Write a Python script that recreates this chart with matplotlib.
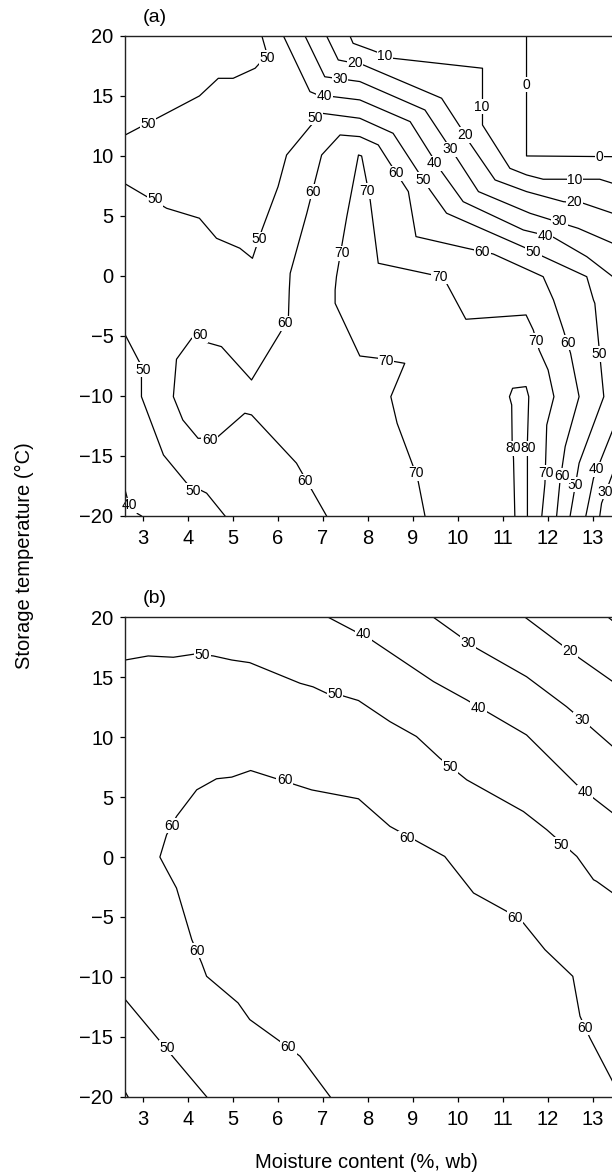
import matplotlib
matplotlib.use('Agg')
import matplotlib.pyplot as plt

plt.rcParams['font.family'] = ['Liberation Sans', 'DejaVu Sans']

# contour lines: (moisture %, temperature C) vertices
# ---- panel (a) ----
a_0 = [(11.53, 20.0), (11.53, 10.0), (13.45, 9.94)]
a_10 = [(7.60, 20.0), (7.67, 19.39), (8.08, 18.83), (8.56, 18.14), (10.55, 17.31),
        (10.55, 12.58), (11.16, 8.97), (11.53, 8.42), (11.90, 8.06), (13.16, 8.06),
        (13.45, 7.72)]
a_20 = [(7.08, 20.0), (7.34, 18.0), (7.90, 17.58), (9.64, 14.81), (10.05, 12.44),
        (10.27, 11.06), (10.83, 8.0), (11.53, 7.03), (12.35, 6.19), (12.79, 6.06),
        (13.45, 5.22)]
a_30 = [(6.60, 20.0), (7.04, 16.6), (7.82, 16.2), (9.27, 13.83), (9.98, 9.81),
        (10.46, 7.03), (11.61, 5.22), (12.68, 3.97), (13.45, 2.72)]
a_30_low = [(13.45, -16.44), (13.20, -18.94), (13.16, -20.0)]
a_40 = [(6.12, 20.0), (6.71, 15.36), (6.89, 15.08), (7.23, 14.94), (7.82, 14.67),
        (8.94, 12.86), (9.64, 8.69), (10.12, 6.19), (11.46, 3.83), (12.13, 3.22),
        (12.87, 1.61), (13.45, -0.06)]
a_40_low = [(13.45, -12.83), (13.02, -16.86), (12.85, -20.0)]
a_40_corner = [(2.60, -17.9), (2.65, -18.6), (2.87, -19.8), (2.96, -20.0)]
a_50_top = [(2.60, 11.75), (4.25, 15.0), (4.67, 16.47), (5.0, 16.47), (5.49, 17.31),
            (5.76, 18.42), (5.64, 20.0)]
a_50 = [(2.60, 7.67), (3.52, 5.64), (4.25, 4.81), (4.63, 3.14), (5.15, 2.31),
        (5.43, 1.47), (5.64, 3.83), (6.0, 7.44), (6.19, 10.08), (6.71, 12.44),
        (6.97, 13.56), (7.82, 13.14), (8.56, 11.89), (9.38, 7.17), (9.75, 5.23),
        (11.61, 2.17), (11.87, 1.67), (12.87, -0.06), (13.02, -2.0), (13.05, -2.28),
        (13.25, -10.06), (12.70, -15.6), (12.50, -20.0)]
a_50_low = [(2.60, -4.92), (2.96, -7.5), (2.96, -10.06), (3.45, -14.92), (3.97, -17.28),
            (4.41, -18.1), (4.82, -20.0)]
a_60 = [(7.08, -20.0), (6.75, -17.83), (6.41, -15.6), (5.41, -11.58), (5.26, -11.44),
        (4.63, -13.5), (4.22, -13.53), (3.88, -12.0), (3.67, -10.06), (3.74, -6.94),
        (4.08, -5.19), (4.74, -5.89), (5.41, -8.67), (6.04, -4.78), (6.23, -3.53),
        (6.25, -1.17), (6.27, 0.22), (6.64, 5.22), (6.97, 10.08), (7.38, 11.75),
        (7.82, 11.61), (8.23, 10.92), (8.49, 9.39), (8.90, 7.03), (9.07, 3.28),
        (10.20, 2.31), (10.79, 1.83), (11.90, -0.06), (12.13, -2.0), (12.35, -4.5),
        (12.51, -6.44), (12.70, -10.06), (12.39, -14.22), (12.27, -17.28), (12.20, -20.0)]
a_70 = [(9.27, -20.0), (9.12, -17.14), (9.01, -15.89), (8.65, -12.28), (8.51, -10.06),
        (8.82, -7.28), (8.60, -7.14), (8.23, -6.86), (7.82, -6.67), (7.27, -2.28),
        (7.27, -1.17), (7.30, -0.06), (7.53, 4.94), (7.79, 10.08), (7.86, 10.0),
        (8.05, 6.33), (8.23, 1.06), (9.45, 0.08), (9.75, -0.61), (10.18, -3.61),
        (11.52, -3.25), (11.68, -4.5), (11.81, -6.17), (12.01, -7.83), (12.14, -10.06),
        (11.98, -12.42), (11.94, -17.28), (11.87, -20.0)]
a_80 = [(11.27, -20.0), (11.24, -15.19), (11.21, -13.81), (11.20, -10.75), (11.15, -10.06),
        (11.22, -9.36), (11.52, -9.22), (11.58, -10.06), (11.55, -13.81), (11.55, -20.0)]

a_labels = [(11.52, 15.92, '0'), (13.16, 9.94, '0'),
            (8.38, 18.33, '10'), (10.54, 14.11, '10'), (12.61, 8.0, '10'),
            (7.71, 17.72, '20'), (10.16, 11.75, '20'), (12.59, 6.19, '20'),
            (7.38, 16.4, '30'), (9.83, 10.56, '30'), (12.26, 4.61, '30'), (13.28, -17.97, '30'),
            (7.04, 15.03, '40'), (9.49, 9.39, '40'), (11.94, 3.36, '40'), (13.09, -16.1, '40'),
            (2.70, -19.1, '40'),
            (3.11, 12.67, '50'), (5.75, 18.2, '50'), (3.26, 6.39, '50'), (5.58, 3.06, '50'),
            (6.82, 13.17, '50'), (9.23, 8.0, '50'), (11.68, 1.97, '50'), (13.15, -6.5, '50'),
            (12.61, -17.4, '50'), (2.99, -7.83, '50'), (4.11, -17.9, '50'),
            (6.60, -17.1, '60'), (4.48, -13.67, '60'), (4.26, -4.92, '60'), (6.15, -3.94, '60'),
            (6.78, 7.03, '60'), (8.62, 8.56, '60'), (10.55, 2.03, '60'), (12.45, -5.56, '60'),
            (12.33, -16.64, '60'),
            (9.07, -16.44, '70'), (8.40, -7.06, '70'), (7.42, 1.89, '70'), (7.97, 7.08, '70'),
            (9.60, -0.06, '70'), (11.74, -5.39, '70'), (11.96, -16.39, '70'),
            (11.24, -14.36, '80'), (11.56, -14.36, '80')]

# ---- panel (b) ----
b_10 = [(13.35, 20.0), (13.45, 19.7)]
b_20 = [(11.50, 20.0), (12.68, 16.67), (13.45, 14.64)]
b_30 = [(9.46, 20.0), (10.42, 17.42), (11.53, 15.05), (12.42, 12.55), (12.94, 10.89),
        (13.45, 9.22)]
b_40 = [(7.12, 20.0), (8.08, 18.11), (9.46, 14.64), (10.20, 13.11), (10.64, 12.14),
        (11.53, 10.19), (12.65, 6.03), (13.02, 4.92), (13.45, 3.67)]
b_40_corner = [(2.60, -19.6), (2.66, -20.0)]
b_50 = [(2.60, 16.44), (3.11, 16.78), (3.67, 16.67), (4.15, 16.94), (4.56, 16.78),
        (4.97, 16.44), (5.37, 16.22), (6.49, 14.5), (6.78, 14.2), (7.08, 13.67),
        (7.45, 13.44), (7.79, 13.06), (8.49, 11.3), (9.08, 10.06), (9.60, 8.25),
        (10.20, 6.44), (11.46, 3.8), (11.98, 2.28), (12.65, 0.05), (13.02, -1.89),
        (13.09, -2.03), (13.45, -3.0)]
b_50_low = [(2.60, -11.89), (3.70, -16.84), (4.41, -20.0)]
b_60 = [(7.16, -20.0), (6.49, -16.62), (6.04, -15.37), (5.37, -13.56), (5.11, -12.17),
        (4.41, -9.95), (4.30, -8.84), (4.08, -6.89), (3.74, -2.59), (3.52, -1.06),
        (3.37, 0.0), (3.52, 1.86), (3.74, 3.39), (4.19, 5.61), (4.63, 6.53),
        (4.97, 6.67), (5.39, 7.22), (6.75, 5.6), (7.79, 4.86), (8.49, 2.56),
        (9.71, 0.05), (10.35, -3.0), (11.09, -4.53), (11.46, -5.5), (11.94, -7.73),
        (12.56, -9.95), (12.72, -13.28), (12.94, -15.09), (13.45, -18.75)]

b_labels = [(12.50, 17.19, '20'),
            (10.23, 17.89, '30'), (12.76, 11.44, '30'),
            (7.90, 18.61, '40'), (10.46, 12.42, '40'), (12.83, 5.42, '40'),
            (4.32, 16.86, '50'), (7.27, 13.61, '50'), (9.83, 7.55, '50'), (12.31, 1.03, '50'),
            (3.54, -15.9, '50'),
            (3.63, 2.61, '60'), (6.15, 6.44, '60'), (8.86, 1.58, '60'), (4.19, -7.81, '60'),
            (6.23, -15.87, '60'), (11.27, -5.09, '60'), (12.83, -14.25, '60')]

a_lines = [a_0, a_10, a_20, a_30, a_30_low, a_40, a_40_low, a_40_corner,
           a_50_top, a_50, a_50_low, a_60, a_70, a_80]
b_lines = [b_10, b_20, b_30, b_40, b_40_corner, b_50, b_50_low, b_60]

x_ticks = [3, 4, 5, 6, 7, 8, 9, 10, 11, 12, 13]
y_ticks = [20, 15, 10, 5, 0, -5, -10, -15, -20]


def draw_panel(ax, lines, labels, tag):
    for pts in lines:
        xs = [p[0] for p in pts]
        ys = [p[1] for p in pts]
        ax.plot(xs, ys, color='black', lw=0.9, zorder=2)
    for x, y, s in labels:
        ax.text(x, y, s, fontsize=10, ha='center', va='center', zorder=2.2,
                bbox=dict(facecolor='white', edgecolor='none', pad=0.4))
    ax.set_xlim(2.6, 13.45)
    ax.set_ylim(-20, 20)
    ax.set_xticks(x_ticks)
    ax.set_yticks(y_ticks)
    ax.spines['right'].set_visible(False)
    for sp in ['left', 'top', 'bottom']:
        ax.spines[sp].set_linewidth(1.0)
        ax.spines[sp].set_color('#222222')
    ax.tick_params(direction='out', length=3.5, width=0.9, labelsize=14.5, pad=5)
    ax.tick_params(axis='x', pad=6)
    ax.text(0.061, 1.0385, tag, transform=ax.transAxes, fontsize=14,
            ha='center', va='center')


fig = plt.figure(figsize=(6.12, 11.75), dpi=100)
ax1 = fig.add_axes([0.2047, 0.5609, 0.7966, 0.4085])
ax2 = fig.add_axes([0.2047, 0.0666, 0.7966, 0.4080])

draw_panel(ax1, a_lines, a_labels, '(a)')
draw_panel(ax2, b_lines, b_labels, '(b)')

fig.text(24 / 612, 1 - 556 / 1175, 'Storage temperature (°C)', rotation=90,
         fontsize=14.5, ha='center', va='center')
fig.text(366 / 612, 1 - 1163 / 1175, 'Moisture content (%, wb)',
         fontsize=14.5, ha='center', va='center')

fig.savefig('out.png', dpi=100)
